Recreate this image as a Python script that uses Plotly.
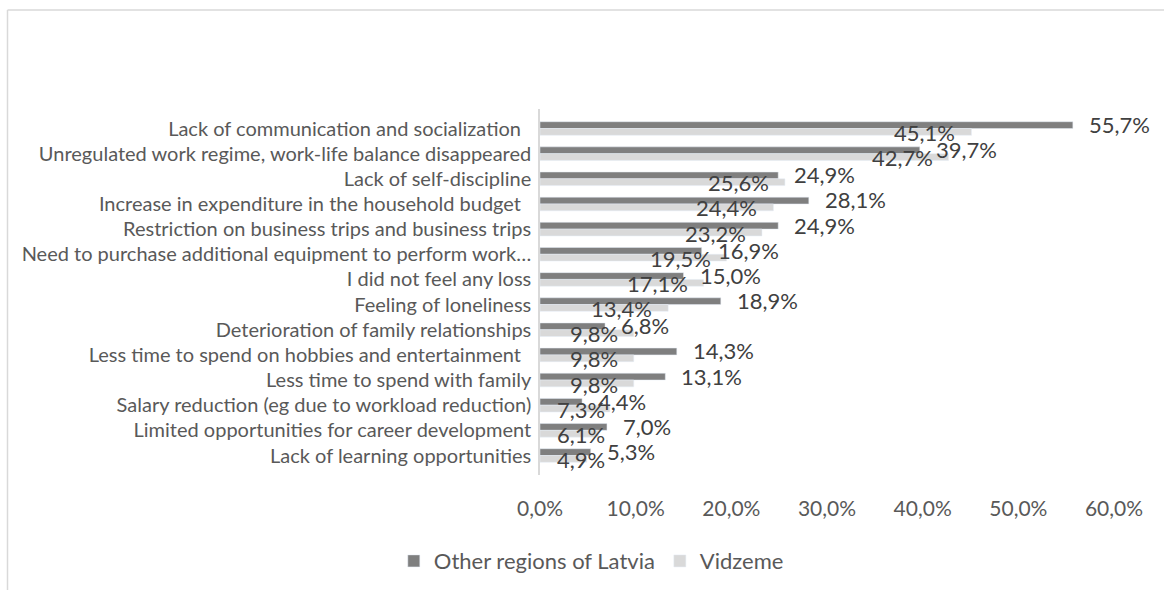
import plotly.graph_objects as go

categories = [
    "Lack of communication and socialization\u00a0\u00a0",
    "Unregulated work regime, work-life balance disappeared",
    "Lack of self-discipline",
    "Increase in expenditure in the household budget\u00a0\u00a0",
    "Restriction on business trips and business trips",
    "Need to purchase additional equipment to perform work…",
    "I did not feel any loss",
    "Feeling of loneliness",
    "Deterioration of family relationships",
    "Less time to spend on hobbies and entertainment\u00a0\u00a0",
    "Less time to spend with family",
    "Salary reduction (eg due to workload reduction)",
    "Limited opportunities for career development",
    "Lack of learning opportunities",
]
other_regions = [55.7, 39.7, 24.9, 28.1, 24.9, 16.9, 15.0, 18.9, 6.8, 14.3, 13.1, 4.4, 7.0, 5.3]
vidzeme = [45.1, 42.7, 25.6, 24.4, 23.2, 19.5, 17.1, 13.4, 9.8, 9.8, 9.8, 7.3, 6.1, 4.9]
tick_values = [0, 10, 20, 30, 40, 50, 60]
tick_labels = ["0,0%", "10,0%", "20,0%", "30,0%", "40,0%", "50,0%", "60,0%"]

FONT = "Lato"
W, H = 1164, 590
L, R, T, B = 540, 50, 109, 115
X_MAX = 60

def fmt(v):
    return f"{v:.1f}".replace(".", ",") + "%"

fig = go.Figure()
fig.add_trace(go.Bar(y=categories, x=other_regions, orientation="h",
                     name="Other regions of Latvia", marker_color="#7f7f7f",
                     hoverinfo="x+y"))
fig.add_trace(go.Bar(y=categories, x=vidzeme, orientation="h",
                     name="Vidzeme", marker_color="#d9d9d9", hoverinfo="x+y"))

pw, ph = W - L - R, H - T - B
px_per_unit = pw / X_MAX
label_font = dict(family=FONT, size=22, color="#404040")
LABEL_W = 46   # approx pixel width of a label such as "9,8%"

ann = []
for c, v in zip(categories, other_regions):
    ann.append(dict(x=v, y=c, xref="x", yref="y", text=fmt(v), showarrow=False,
                    xanchor="left", yanchor="middle", xshift=14, yshift=4,
                    font=label_font))
for c, v in zip(categories, vidzeme):
    # labels are kept inside the plot area (as in the source chart)
    if v * px_per_unit - 14 - LABEL_W < 15:
        ann.append(dict(x=0, y=c, xref="x", yref="y", text=fmt(v), showarrow=False,
                        xanchor="left", yanchor="middle", xshift=15, yshift=-4,
                        font=label_font))
    else:
        ann.append(dict(x=v, y=c, xref="x", yref="y", text=fmt(v), showarrow=False,
                        xanchor="right", yanchor="middle", xshift=-14, yshift=-4,
                        font=label_font))

def px_to_paper_x(px):
    return (px - L) / pw
def py_to_paper_y(py):
    return 1 - (py - T) / ph

border = "#d9d9d9"
shapes = [
    dict(type="line", xref="paper", yref="paper",
         x0=px_to_paper_x(7.5), x1=px_to_paper_x(7.5),
         y0=py_to_paper_y(10), y1=py_to_paper_y(600),
         line=dict(color=border, width=1.5)),
    dict(type="line", xref="paper", yref="paper",
         x0=px_to_paper_x(7.5), x1=px_to_paper_x(1170),
         y0=py_to_paper_y(10), y1=py_to_paper_y(10),
         line=dict(color=border, width=1.5)),
]

fig.update_layout(
    width=W, height=H,
    margin=dict(l=L, r=R, t=T, b=B, pad=0, autoexpand=False),
    paper_bgcolor="white", plot_bgcolor="white",
    barmode="group", bargap=0.46, bargroupgap=0,
    font=dict(family=FONT, color="#595959"),
    showlegend=True,
    legend=dict(orientation="h", xref="container", yref="container",
                x=0.508, y=0.049, xanchor="center", yanchor="middle",
                font=dict(family=FONT, size=22, color="#595959"),
                itemwidth=30, traceorder="normal"),
    annotations=ann,
    shapes=shapes,
    xaxis=dict(range=[0, X_MAX], tickvals=tick_values, ticktext=tick_labels,
               showgrid=False, zeroline=False, showline=False, ticks="",
               ticklabelstandoff=19, automargin=False,
               tickfont=dict(family=FONT, size=21, color="#595959")),
    yaxis=dict(autorange="reversed", showgrid=False, zeroline=False,
               showline=True, linecolor="#d9d9d9", linewidth=1.5, ticks="",
               ticklabelstandoff=3, automargin=False,
               tickfont=dict(family=FONT, size=20, color="#595959")),
)

fig.write_html("out.html")
